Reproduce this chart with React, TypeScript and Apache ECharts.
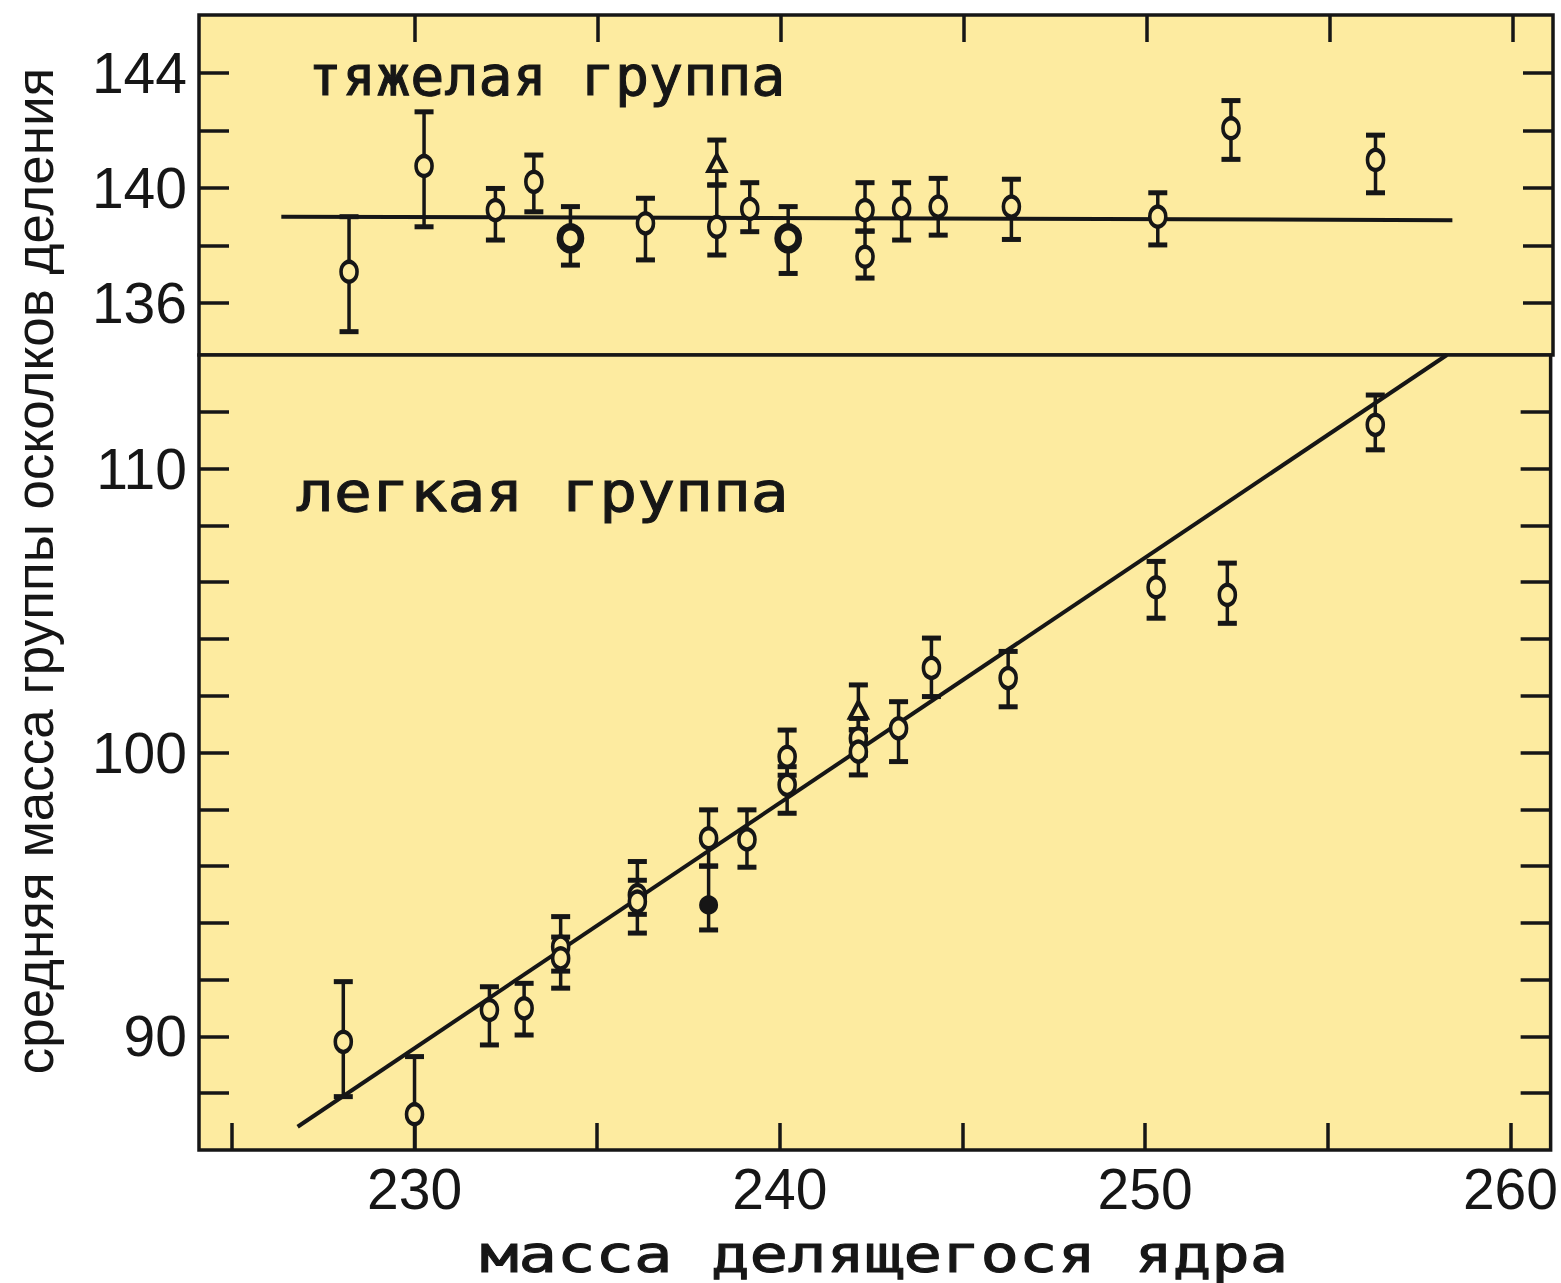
import React, { useEffect, useRef } from 'react';
import * as echarts from 'echarts';

// ---- axis ticks / labels ----
const xTicksBottom = [225, 230, 235, 240, 245, 250, 255, 260];
const xTicksTop = [230, 235, 240, 245, 250, 255, 260];
const xLabels = [230, 240, 250, 260];
const heavyTicks = [136, 138, 140, 142, 144];
const heavyLabels = [136, 140, 144];
const lightTicks = [88, 90, 92, 94, 96, 98, 100, 102, 104, 106, 108, 110, 112];
const lightLabels = [90, 100, 110];

// ---- heavy group: [mass of nucleus, mean mass, low, high] ----
const heavyOpen = [
  [228.2, 137.09, 135.01, 139.0],
  [230.25, 140.76, 138.65, 142.64],
  [232.2, 139.23, 138.19, 139.98],
  [233.25, 140.21, 139.17, 141.14],
  [236.3, 138.77, 137.5, 139.64],
  [238.25, 138.65, 137.67, 140.1],
  [239.15, 139.27, 138.48, 140.18],
  [242.3, 139.23, 138.5, 140.18],
  [242.3, 137.61, 136.87, 138.5],
  [243.3, 139.29, 138.19, 140.18],
  [244.3, 139.35, 138.36, 140.33],
  [246.3, 139.35, 138.21, 140.3],
  [250.3, 139.0, 138.02, 139.83],
  [252.3, 142.07, 140.99, 143.03],
  [256.25, 140.97, 139.83, 141.83],
];
const heavyBold = [
  [234.25, 138.25, 137.32, 139.35],
  [240.2, 138.25, 137.03, 139.35],
];
const heavyTriangle = [[238.25, 140.86, 140.1, 141.66]];
const heavyFit = [
  [226.35, 139.0],
  [258.35, 138.88],
];

// ---- light group ----
const lightOpen = [
  [228.05, 89.81, 87.88, 91.93],
  [230.0, 87.26, 85.3, 89.29],
  [232.05, 90.93, 89.7, 91.75],
  [233.0, 90.99, 90.05, 91.87],
  [234.0, 93.16, 92.3, 94.22],
  [234.0, 92.75, 91.7, 93.5],
  [236.1, 94.98, 94.3, 96.16],
  [236.1, 94.75, 93.64, 95.5],
  [238.05, 96.98, 96.0, 97.98],
  [239.1, 96.94, 95.96, 97.98],
  [240.2, 99.85, 99.2, 100.79],
  [240.2, 98.86, 97.86, 99.5],
  [242.15, 100.5, 99.9, 101.2],
  [242.15, 100.03, 99.21, 100.8],
  [243.25, 100.85, 99.68, 101.79],
  [244.15, 102.98, 101.97, 104.03],
  [246.25, 102.62, 101.61, 103.56],
  [250.3, 105.82, 104.73, 106.73],
  [252.25, 105.55, 104.55, 106.67],
  [256.3, 111.54, 110.66, 112.59],
];
const lightFilled = [[238.05, 94.63, 93.75, 96.0]];
const lightTriangle = [[242.15, 101.5, 100.8, 102.38]];
const lightFit = [
  [226.8, 86.82],
  [258.26, 114.0],
];

const INK = '#161616';
const BG = '#fdeba0';
const NUM_FONT = 'Liberation Sans';
const TXT_FONT = 'DejaVu Sans Mono';

function errorBars(data: number[][], xAxisIndex: number, yAxisIndex: number) {
  return {
    type: 'custom',
    xAxisIndex,
    yAxisIndex,
    clip: true,
    z: 3,
    data,
    encode: { x: 0, y: [1, 2, 3] },
    renderItem: (_params: any, api: any) => {
      const x = api.value(0);
      const a = api.coord([x, api.value(2)]);
      const b = api.coord([x, api.value(3)]);
      const w = 9.5;
      return {
        type: 'group',
        children: [
          { type: 'line', shape: { x1: a[0], y1: a[1], x2: b[0], y2: b[1] }, style: { stroke: INK, lineWidth: 3.5 } },
          { type: 'line', shape: { x1: a[0] - w, y1: a[1], x2: a[0] + w, y2: a[1] }, style: { stroke: INK, lineWidth: 5 } },
          { type: 'line', shape: { x1: b[0] - w, y1: b[1], x2: b[0] + w, y2: b[1] }, style: { stroke: INK, lineWidth: 5 } },
        ],
      };
    },
  };
}

function markers(data: number[][], xAxisIndex: number, yAxisIndex: number, kind: string) {
  const base: any = {
    type: 'scatter',
    xAxisIndex,
    yAxisIndex,
    z: 4,
    data: data.map((d) => [d[0], d[1]]),
    symbol: 'circle',
    symbolSize: [16, 20],
    itemStyle: { color: BG, borderColor: INK, borderWidth: 4, opacity: 1 },
    emphasis: { disabled: true },
  };
  if (kind === 'bold') {
    base.symbolSize = [21, 23];
    base.itemStyle = { color: BG, borderColor: INK, borderWidth: 7, opacity: 1 };
  } else if (kind === 'triangle') {
    base.symbol = 'triangle';
    base.symbolSize = [17, 16];
  } else if (kind === 'filled') {
    base.symbolSize = [17, 17];
    base.itemStyle = { color: INK, borderColor: INK, borderWidth: 2, opacity: 1 };
  }
  return base;
}

function fitLine(data: number[][], xAxisIndex: number, yAxisIndex: number) {
  return {
    type: 'line',
    xAxisIndex,
    yAxisIndex,
    z: 2,
    data,
    symbol: 'none',
    lineStyle: { color: INK, width: 4 },
  };
}

function yAxisDef(gridIndex: number, min: number, max: number, ticks: number[], labels: number[] | null, position: string) {
  return {
    type: 'value',
    gridIndex,
    min,
    max,
    position,
    axisLine: { show: false },
    splitLine: { show: false },
    axisTick: { show: true, inside: true, length: 30, lineStyle: { color: INK, width: 3.5 }, customValues: ticks },
    axisLabel: labels
      ? { show: true, customValues: labels, margin: 12, fontSize: 57, color: INK, fontFamily: NUM_FONT }
      : { show: false },
  };
}

function xAxisDef(gridIndex: number, ticks: number[], labels: number[] | null, position: string) {
  return {
    type: 'value',
    gridIndex,
    min: 224.1,
    max: 261.1,
    position,
    axisLine: { show: false },
    splitLine: { show: false },
    axisTick: { show: true, inside: true, length: 27, lineStyle: { color: INK, width: 3.5 }, customValues: ticks },
    axisLabel: labels
      ? { show: true, customValues: labels, margin: 10, fontSize: 57, color: INK, fontFamily: NUM_FONT }
      : { show: false },
  };
}

export default function App() {
  const ref = useRef<HTMLDivElement>(null);
  useEffect(() => {
    if (!ref.current) return;
    const chart = echarts.init(ref.current, null, { renderer: 'svg' });
    const gridStyle = { show: true, backgroundColor: BG, borderColor: INK, borderWidth: 3.5, containLabel: false };
    chart.setOption({
      animation: false,
      backgroundColor: '#ffffff',
      grid: [
        { ...gridStyle, left: 199, top: 15, width: 1354, height: 340 },
        { ...gridStyle, left: 199, top: 355, width: 1354, height: 795 },
      ],
      xAxis: [xAxisDef(0, xTicksTop, null, 'top'), xAxisDef(1, xTicksBottom, xLabels, 'bottom')],
      yAxis: [
        yAxisDef(0, 134.2, 146, heavyTicks, heavyLabels, 'left'),
        yAxisDef(0, 134.2, 146, heavyTicks, null, 'right'),
        yAxisDef(1, 86, 114, lightTicks, lightLabels, 'left'),
        yAxisDef(1, 86, 114, lightTicks, null, 'right'),
      ],
      series: [
        fitLine(heavyFit, 0, 0),
        errorBars([...heavyOpen, ...heavyBold, ...heavyTriangle], 0, 0),
        markers(heavyOpen, 0, 0, 'open'),
        markers(heavyBold, 0, 0, 'bold'),
        markers(heavyTriangle, 0, 0, 'triangle'),
        fitLine(lightFit, 1, 2),
        errorBars([...lightOpen, ...lightFilled, ...lightTriangle], 1, 2),
        markers(lightOpen, 1, 2, 'open'),
        markers(lightFilled, 1, 2, 'filled'),
        markers(lightTriangle, 1, 2, 'triangle'),
      ],
      graphic: [
        {
          type: 'text',
          x: 308,
          y: 76,
          scaleX: 1.03,
          z: 10,
          style: { text: 'тяжелая группа', fontSize: 55, fontFamily: TXT_FONT, fill: INK, stroke: INK, lineWidth: 1, align: 'left', verticalAlign: 'middle' },
        },
        {
          type: 'text',
          x: 296,
          y: 492,
          scaleX: 1.145,
          z: 10,
          style: { text: 'легкая группа', fontSize: 55, fontFamily: TXT_FONT, fill: INK, stroke: INK, lineWidth: 1, align: 'left', verticalAlign: 'middle' },
        },
        {
          type: 'text',
          x: 480,
          y: 1254,
          scaleX: 1.23,
          z: 10,
          style: { text: 'масса делящегося ядра', fontSize: 52, fontFamily: TXT_FONT, fill: INK, stroke: INK, lineWidth: 1, align: 'left', verticalAlign: 'middle' },
        },
        {
          type: 'text',
          x: 34,
          y: 571,
          rotation: Math.PI / 2,
          z: 10,
          style: { text: 'средняя масса группы осколков деления', fontSize: 53, fontFamily: NUM_FONT, fill: INK, align: 'center', verticalAlign: 'middle' },
        },
      ],
    });
    return () => chart.dispose();
  }, []);
  return <div ref={ref} style={{ position: 'absolute', left: 0, top: 0, width: 1561, height: 1283 }} />;
}
